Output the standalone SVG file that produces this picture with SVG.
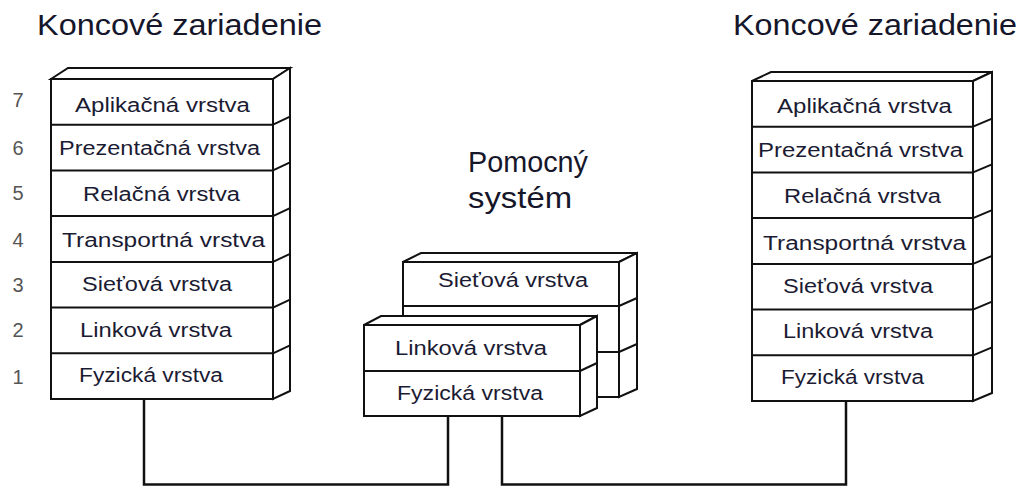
<svg xmlns="http://www.w3.org/2000/svg" width="1024" height="486" viewBox="0 0 1024 486">
<style>
.box{fill:#fff;stroke:#111;stroke-width:2;stroke-linejoin:miter}
.ln{stroke:#111;stroke-width:2;fill:none}
.lbl{font-family:"Liberation Sans",Arial,sans-serif;font-size:20px;fill:#1b1b33}
.num{font-family:"Liberation Sans",Arial,sans-serif;font-size:20px;fill:#555;text-anchor:middle}
.ttl{font-family:"Liberation Sans",Arial,sans-serif;font-size:29px;fill:#16162a}
.con{stroke:#111;stroke-width:2.5;fill:none}
</style>
<rect width="1024" height="486" fill="#fff"/>

<g id="title-left"><text class="ttl" x="37" y="35" textLength="285" lengthAdjust="spacingAndGlyphs">Koncové zariadenie</text></g>
<g id="title-right"><text class="ttl" x="733" y="35" textLength="284" lengthAdjust="spacingAndGlyphs">Koncové zariadenie</text></g>
<g id="title-middle">
<text class="ttl" x="468" y="172" textLength="120" lengthAdjust="spacingAndGlyphs">Pomocný</text>
<text class="ttl" x="468" y="208" textLength="104" lengthAdjust="spacingAndGlyphs">systém</text>
</g>

<g id="layer-numbers">
<text class="num" x="18" y="107">7</text>
<text class="num" x="18" y="155">6</text>
<text class="num" x="18" y="200">5</text>
<text class="num" x="18" y="247">4</text>
<text class="num" x="18" y="292">3</text>
<text class="num" x="18" y="337">2</text>
<text class="num" x="18" y="384">1</text>
</g>

<g id="connectors">
<polyline class="con" points="144,399 144,484.5 448,484.5 448,417"/>
<polyline class="con" points="502,417 502,484.5 846,484.5 846,401"/>
</g>

<g id="stack-left">
<polygon class="box" points="51,79 68,68 290,68 273,79"/>
<polygon class="box" points="273,79 290,68 290,391 273,399"/>
<rect class="box" x="51" y="79" width="222" height="320"/>
<path class="ln" d="M51,124.7H273M51,170.4H273M51,216.1H273M51,261.9H273M51,307.6H273M51,353.3H273"/>
<path class="ln" d="M273,124.7L290,116.7M273,170.4L290,162.4M273,216.1L290,208.1M273,261.9L290,253.9M273,307.6L290,299.6M273,353.3L290,345.3"/>
<text class="lbl" x="75" y="112" textLength="175" lengthAdjust="spacingAndGlyphs">Aplikačná vrstva</text>
<text class="lbl" x="59" y="155" textLength="201" lengthAdjust="spacingAndGlyphs">Prezentačná vrstva</text>
<text class="lbl" x="83" y="201" textLength="157" lengthAdjust="spacingAndGlyphs">Relačná vrstva</text>
<text class="lbl" x="62" y="247" textLength="203" lengthAdjust="spacingAndGlyphs">Transportná vrstva</text>
<text class="lbl" x="82" y="291" textLength="150" lengthAdjust="spacingAndGlyphs">Sieťová vrstva</text>
<text class="lbl" x="80" y="337" textLength="152" lengthAdjust="spacingAndGlyphs">Linková vrstva</text>
<text class="lbl" x="79" y="382" textLength="144" lengthAdjust="spacingAndGlyphs">Fyzická vrstva</text>
</g>

<g id="stack-right">
<polygon class="box" points="752,81 771,72 992,72 973,81"/>
<polygon class="box" points="973,81 992,72 992,393 973,401"/>
<rect class="box" x="752" y="81" width="221" height="320"/>
<path class="ln" d="M752,126.7H973M752,172.4H973M752,218.1H973M752,263.9H973M752,309.6H973M752,355.3H973"/>
<path class="ln" d="M973,126.7L992,118.7M973,172.4L992,164.4M973,218.1L992,210.1M973,263.9L992,255.9M973,309.6L992,301.6M973,355.3L992,347.3"/>
<text class="lbl" x="777" y="113" textLength="175" lengthAdjust="spacingAndGlyphs">Aplikačná vrstva</text>
<text class="lbl" x="758" y="157" textLength="205" lengthAdjust="spacingAndGlyphs">Prezentačná vrstva</text>
<text class="lbl" x="784" y="203" textLength="157" lengthAdjust="spacingAndGlyphs">Relačná vrstva</text>
<text class="lbl" x="763" y="250" textLength="203" lengthAdjust="spacingAndGlyphs">Transportná vrstva</text>
<text class="lbl" x="783" y="293" textLength="150" lengthAdjust="spacingAndGlyphs">Sieťová vrstva</text>
<text class="lbl" x="783" y="338" textLength="150" lengthAdjust="spacingAndGlyphs">Linková vrstva</text>
<text class="lbl" x="781" y="384" textLength="143" lengthAdjust="spacingAndGlyphs">Fyzická vrstva</text>
</g>

<g id="stack-middle-back">
<polygon class="box" points="403,262 421,253 637,253 619,262"/>
<polygon class="box" points="619,262 637,253 637,389 619,397"/>
<rect class="box" x="403" y="262" width="216" height="135"/>
<path class="ln" d="M403,306H619M403,352H619"/>
<path class="ln" d="M619,306L637,298M619,352L637,344"/>
<text class="lbl" x="438" y="287" textLength="150" lengthAdjust="spacingAndGlyphs">Sieťová vrstva</text>
</g>

<g id="stack-middle-front">
<polygon class="box" points="364,325 381,316 597,316 580,325"/>
<polygon class="box" points="580,325 597,316 597,408 580,416"/>
<rect class="box" x="364" y="325" width="216" height="91"/>
<path class="ln" d="M364,371H580M580,371L597,363"/>
<text class="lbl" x="395" y="355" textLength="152" lengthAdjust="spacingAndGlyphs">Linková vrstva</text>
<text class="lbl" x="397" y="400" textLength="146" lengthAdjust="spacingAndGlyphs">Fyzická vrstva</text>
</g>
</svg>
